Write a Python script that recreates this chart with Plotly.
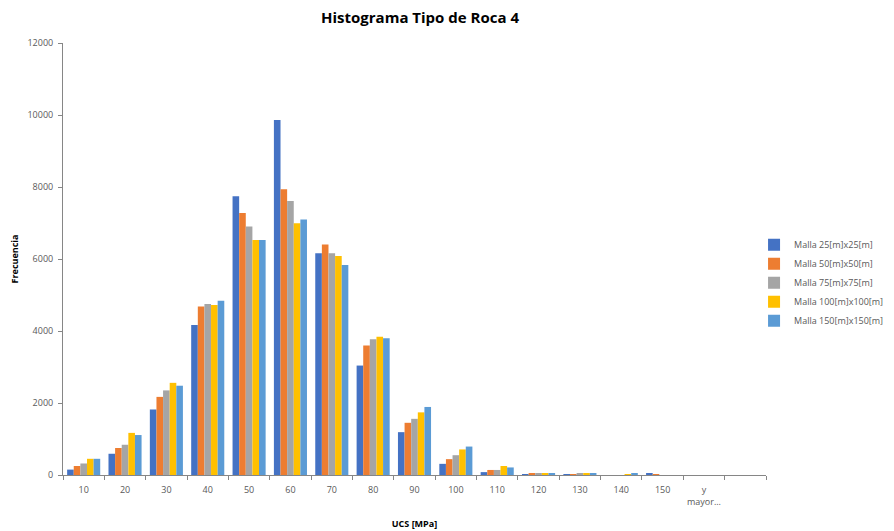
import plotly.graph_objects as go

categories = ["10", "20", "30", "40", "50", "60", "70", "80", "90", "100",
              "110", "120", "130", "140", "150", "y<br>mayor...", " "]

series_names = ["Malla 25[m]x25[m]", "Malla 50[m]x50[m]", "Malla 75[m]x75[m]",
                "Malla 100[m]x100[m]", "Malla 150[m]x150[m]"]

malla_25 = [150, 590, 1820, 4170, 7740, 9860, 6160, 3040, 1190, 310, 80, 20, 5, 0, 30, 0, 0]
malla_50 = [250, 750, 2170, 4680, 7280, 7940, 6400, 3600, 1450, 440, 140, 40, 10, 0, 10, 0, 0]
malla_75 = [320, 840, 2350, 4750, 6900, 7610, 6160, 3770, 1560, 550, 140, 40, 30, 0, 0, 0, 0]
malla_100 = [450, 1170, 2560, 4720, 6530, 6990, 6080, 3840, 1740, 710, 250, 40, 40, 10, 0, 0, 0]
malla_150 = [450, 1110, 2480, 4840, 6530, 7100, 5830, 3800, 1890, 790, 210, 30, 30, 30, 0, 0, 0]

series_values = [malla_25, malla_50, malla_75, malla_100, malla_150]
colors = ["#4472C4", "#ED7D31", "#A5A5A5", "#FFC000", "#5B9BD5"]

fig = go.Figure()
for name, vals, col in zip(series_names, series_values, colors):
    fig.add_trace(go.Bar(x=categories, y=vals, name=name, marker_color=col,
                         marker_line_width=0))

font_family = "Open Sans, Lato, sans-serif"
fig.update_layout(
    width=886, height=523,
    paper_bgcolor="white", plot_bgcolor="white",
    margin=dict(l=55, r=128, t=35, b=56, autoexpand=False),
    barmode="group", bargap=0.2, bargroupgap=0,
    font=dict(family=font_family, size=9, color="#595959"),
    title=dict(text="<b>Histograma Tipo de Roca 4</b>", x=0.465, xanchor="center",
               y=0.981, yanchor="middle",
               font=dict(family=font_family, size=15, color="#000000")),
    legend=dict(x=0.983, y=0.445, xanchor="left", yanchor="middle",
                font=dict(size=9, color="#595959"), tracegroupgap=0,
                itemwidth=30),
    showlegend=True,
)
fig.update_xaxes(
    type="category", categoryorder="array", categoryarray=categories,
    showline=True, linecolor="#868686", linewidth=1,
    ticks="outside", ticklen=4, tickcolor="#868686", tickson="boundaries",
    tickangle=0, automargin=False, ticklabelstandoff=6,
    showgrid=False, tickfont=dict(size=9, color="#595959"),
    title=dict(text="<b>UCS [MPa]</b>", font=dict(size=9, color="#000000"), standoff=14),
)
fig.update_yaxes(
    range=[0, 12000], dtick=2000, tickformat="d", showgrid=False, zeroline=False,
    showline=True, linecolor="#868686", linewidth=1,
    ticks="outside", ticklen=4, tickcolor="#868686", automargin=False,
    ticklabelstandoff=3,
    tickfont=dict(size=9, color="#595959"),
    title=dict(text="<b>Frecuencia</b>", font=dict(size=9, color="#000000"), standoff=18),
)

fig.write_html("out.html")
